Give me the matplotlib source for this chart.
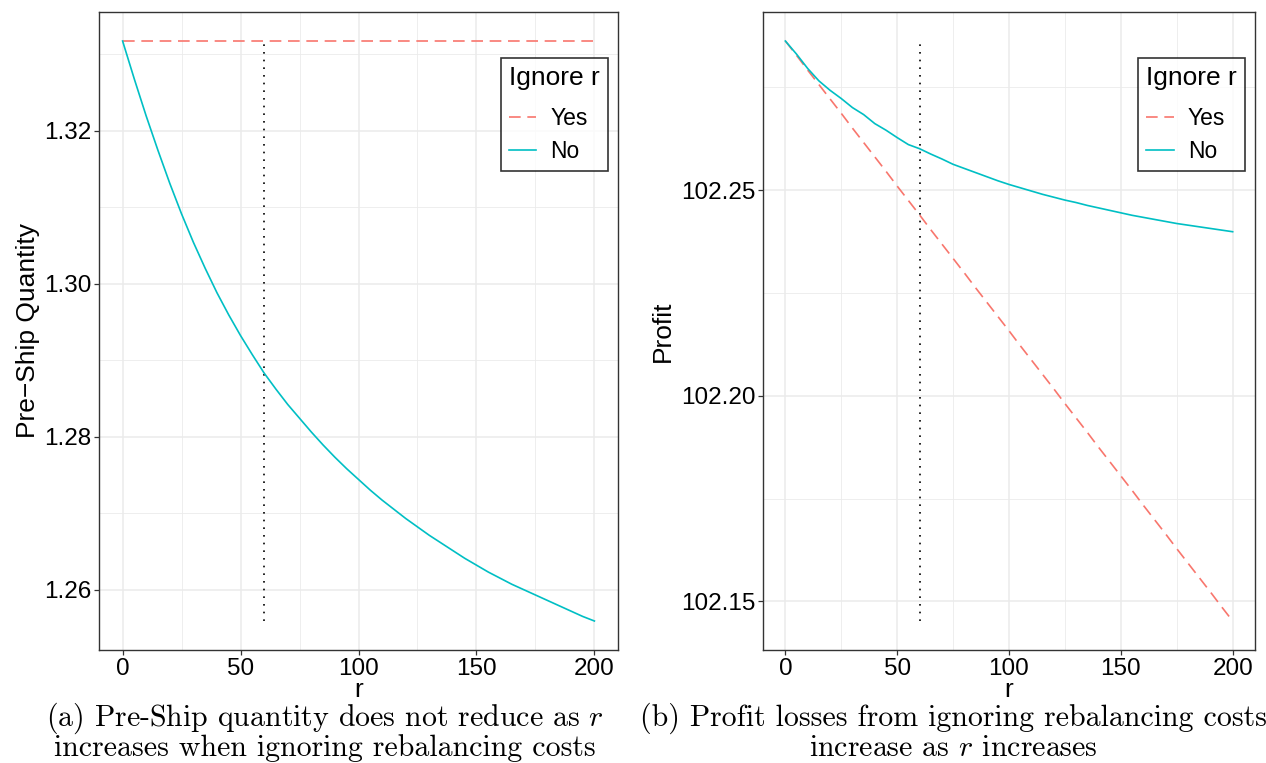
import numpy as np
import matplotlib
matplotlib.use("Agg")
import matplotlib.pyplot as plt
from matplotlib.ticker import MultipleLocator, FormatStrFormatter

plt.rcParams['font.family'] = ['Liberation Sans', 'DejaVu Sans']
plt.rcParams['mathtext.fontset'] = 'cm'

# rebalancing cost grid
r = list(range(0, 201, 5))

# pre-ship quantity
preship_yes = [1.3317] * len(r)
preship_no = [1.3317, 1.3267, 1.3219, 1.3174, 1.3131, 1.3091, 1.3054, 1.3020,
              1.2988, 1.2959, 1.2932, 1.2907, 1.2883, 1.2862, 1.2842, 1.2824,
              1.2806, 1.2789, 1.2773, 1.2758, 1.2744, 1.2730, 1.2717, 1.2705,
              1.2693, 1.2682, 1.2671, 1.2661, 1.2651, 1.2641, 1.2632, 1.2623,
              1.2615, 1.2607, 1.2600, 1.2593, 1.2586, 1.2579, 1.2572, 1.2565,
              1.2559]

# profit
profit_yes = [102.2863, 102.2828, 102.2792, 102.2757, 102.2722, 102.2687,
              102.2651, 102.2616, 102.2581, 102.2546, 102.2510, 102.2475,
              102.2440, 102.2404, 102.2369, 102.2334, 102.2299, 102.2263,
              102.2228, 102.2193, 102.2158, 102.2122, 102.2087, 102.2052,
              102.2017, 102.1981, 102.1946, 102.1911, 102.1875, 102.1840,
              102.1805, 102.1770, 102.1734, 102.1699, 102.1664, 102.1628,
              102.1593, 102.1558, 102.1523, 102.1487, 102.1452]
profit_no = [102.2863, 102.2831, 102.2796, 102.2766, 102.2743, 102.2723,
             102.2701, 102.2684, 102.2662, 102.2646, 102.2628, 102.2611,
             102.2601, 102.2588, 102.2576, 102.2563, 102.2553, 102.2543,
             102.2533, 102.2523, 102.2514, 102.2506, 102.2498, 102.2490,
             102.2483, 102.2476, 102.2470, 102.2463, 102.2457, 102.2451,
             102.2445, 102.2439, 102.2434, 102.2429, 102.2424, 102.2419,
             102.2415, 102.2411, 102.2407, 102.2403, 102.2399]

r_star = 60
RED = '#F8766D'
CYAN = '#00BFC4'
W, H = 1266, 763


def style_axes(ax, ymajor, yminor):
    ax.set_xlim(-10, 210)
    ax.xaxis.set_major_locator(MultipleLocator(50))
    ax.xaxis.set_minor_locator(MultipleLocator(25))
    ax.yaxis.set_major_locator(MultipleLocator(ymajor))
    ax.yaxis.set_minor_locator(MultipleLocator(yminor))
    ax.yaxis.set_major_formatter(FormatStrFormatter('%.2f'))
    ax.grid(which='major', color='#EBEBEB', lw=1.1, zorder=0)
    ax.grid(which='minor', color='#EBEBEB', lw=0.6, zorder=0)
    ax.set_axisbelow(True)
    for s in ax.spines.values():
        s.set_color('#333333')
        s.set_linewidth(1.0)
    ax.tick_params(which='major', direction='out', length=3.5, width=0.9,
                   color='#333333', labelsize=17.5, labelcolor='black', pad=2)
    ax.tick_params(which='minor', length=0)
    ax.set_xlabel('r', fontsize=19, labelpad=-1)


def panel(ax, y_yes, y_no, ylabel, ymajor, yminor):
    ax.plot(r, y_yes, color=RED, lw=1.2, dashes=(7, 4), label='Yes', zorder=3)
    ax.plot(r, y_no, color=CYAN, lw=1.2, label='No', zorder=3)
    lo = min(min(y_yes), min(y_no))
    hi = max(max(y_yes), max(y_no))
    ax.plot([r_star, r_star], [lo, hi], color='black', lw=1.2,
            dashes=(1, 3.6), zorder=2)
    pad = (hi - lo) * 0.05
    ax.set_ylim(lo - pad, hi + pad)
    style_axes(ax, ymajor, yminor)
    ax.set_ylabel(ylabel, fontsize=19)
    leg = ax.legend(title='Ignore r', loc='upper right',
                    bbox_to_anchor=(0.98, 0.928), fontsize=16.5,
                    title_fontsize=19, frameon=True, fancybox=False,
                    handlelength=1.2, handletextpad=0.6, borderpad=0.35,
                    labelspacing=0.45, borderaxespad=0)
    leg.get_frame().set_edgecolor('black')
    leg.get_frame().set_linewidth(1.2)
    leg._legend_box.align = 'left'
    # extra room between legend title and keys
    leg._legend_box.sep = 12


fig = plt.figure(figsize=(W / 100, H / 100), dpi=100)
ax1 = fig.add_axes([99 / W, 1 - 650 / H, 519 / W, 638 / H])
ax2 = fig.add_axes([763 / W, 1 - 650 / H, 492 / W, 638 / H])

panel(ax1, preship_yes, preship_no, 'Pre\u2212Ship Quantity', 0.02, 0.01)
panel(ax2, profit_yes, profit_no, 'Profit', 0.05, 0.025)
ax1.yaxis.set_label_coords(-0.114, 0.5)
ax2.yaxis.set_label_coords(-0.18, 0.5)

cap = dict(fontsize=21.5, family='cmr10', ha='center', va='center')
fig.text(325 / W, 1 - 718 / H, r'(a) Pre-Ship quantity does not reduce as $r$', **cap)
fig.text(325 / W, 1 - 748 / H, 'increases when ignoring rebalancing costs', **cap)
fig.text(953 / W, 1 - 718 / H, '(b) Profit losses from ignoring rebalancing costs', **cap)
fig.text(953 / W, 1 - 748 / H, r'increase as $r$ increases', **cap)

fig.savefig('out.png', dpi=100)
